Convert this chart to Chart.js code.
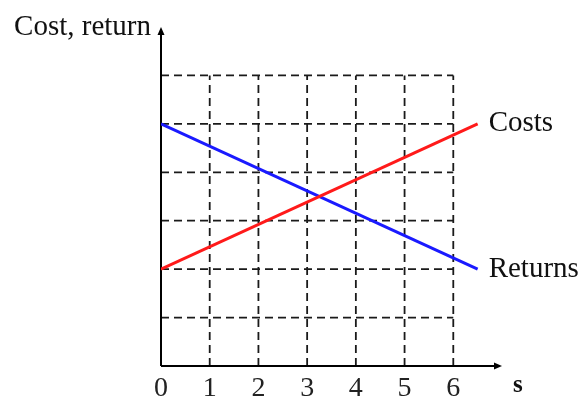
<!DOCTYPE html>
<html>
<head>
<meta charset="utf-8">
<script src="https://cdn.jsdelivr.net/npm/chart.js@4.4.1/dist/chart.umd.min.js"></script>
<style>
  html, body { margin: 0; padding: 0; background: #fff; }
  #wrap { width: 582px; height: 398px; position: relative; }
</style>
</head>
<body>
<div id="wrap"><canvas id="myChart"></canvas></div>
<script>
// data
const sValues = [0, 6.5];
const costs = [2, 5];
const returns = [5, 2];
const xTickLabels = [0, 1, 2, 3, 4, 5, 6];
const gridLevels = [1, 2, 3, 4, 5, 6];
const axisMax = 7;

const serif = "'Liberation Serif', 'Times New Roman', serif";

// dashed grid, arrowed axes and the text labels
const sketchPlugin = {
  id: "sketch",
  beforeDatasetsDraw(chart) {
    const ctx = chart.ctx;
    const x = chart.scales.x;
    const y = chart.scales.y;
    const top = gridLevels[gridLevels.length - 1];

    ctx.save();
    ctx.strokeStyle = "#1a1a1a";
    ctx.lineWidth = 1.8;
    ctx.setLineDash([8, 5]);
    gridLevels.forEach((v) => {
      ctx.beginPath();
      ctx.moveTo(x.getPixelForValue(v), y.getPixelForValue(0));
      ctx.lineTo(x.getPixelForValue(v), y.getPixelForValue(top));
      ctx.stroke();
      ctx.beginPath();
      ctx.moveTo(x.getPixelForValue(0), y.getPixelForValue(v));
      ctx.lineTo(x.getPixelForValue(top), y.getPixelForValue(v));
      ctx.stroke();
    });
    ctx.setLineDash([]);

    // axes
    const x0 = x.getPixelForValue(0);
    const y0 = y.getPixelForValue(0);
    const xEnd = x.getPixelForValue(axisMax);
    const yEnd = y.getPixelForValue(axisMax);
    ctx.strokeStyle = "#000";
    ctx.fillStyle = "#000";
    ctx.lineWidth = 2;
    ctx.beginPath();
    ctx.moveTo(x0, y0);
    ctx.lineTo(x0, yEnd + 4);
    ctx.moveTo(x0, y0);
    ctx.lineTo(xEnd - 4, y0);
    ctx.stroke();
    ctx.beginPath();
    ctx.moveTo(x0, yEnd);
    ctx.lineTo(x0 - 3.5, yEnd + 8);
    ctx.lineTo(x0 + 3.5, yEnd + 8);
    ctx.closePath();
    ctx.fill();
    ctx.beginPath();
    ctx.moveTo(xEnd, y0);
    ctx.lineTo(xEnd - 8, y0 - 3.5);
    ctx.lineTo(xEnd - 8, y0 + 3.5);
    ctx.closePath();
    ctx.fill();
    ctx.restore();
  },
  afterDatasetsDraw(chart) {
    const ctx = chart.ctx;
    const x = chart.scales.x;
    const y = chart.scales.y;
    ctx.save();
    ctx.fillStyle = "#111";
    ctx.font = "29px " + serif;
    ctx.textBaseline = "middle";
    ctx.textAlign = "left";
    const last = sValues.length - 1;
    ctx.fillText("Costs", x.getPixelForValue(sValues[last]) + 11, y.getPixelForValue(costs[last]));
    ctx.fillText("Returns", x.getPixelForValue(sValues[last]) + 11, y.getPixelForValue(returns[last]));

    ctx.textAlign = "right";
    ctx.textBaseline = "alphabetic";
    ctx.fillText("Cost, return", x.getPixelForValue(0) - 10, y.getPixelForValue(axisMax) + 8);

    ctx.textAlign = "left";
    ctx.font = "bold 25px " + serif;
    ctx.fillText("s", x.getPixelForValue(axisMax) + 11, y.getPixelForValue(0) + 26);
    ctx.restore();
  },
};

const ctx = document.getElementById("myChart");

new Chart(ctx, {
  type: "line",
  data: {
    datasets: [
      {
        label: "Costs",
        data: sValues.map((v, i) => ({ x: v, y: costs[i] })),
        borderColor: "#ff1a1a",
        borderWidth: 3,
        pointRadius: 0,
      },
      {
        label: "Returns",
        data: sValues.map((v, i) => ({ x: v, y: returns[i] })),
        borderColor: "#1a1aff",
        borderWidth: 3,
        pointRadius: 0,
      },
    ],
  },
  options: {
    responsive: true,
    maintainAspectRatio: false,
    animation: false,
    layout: {
      padding: { left: 161, right: 80, top: 27, bottom: 0 },
    },
    plugins: {
      legend: { display: false },
      tooltip: { enabled: false },
    },
    scales: {
      x: {
        type: "linear",
        min: 0,
        max: axisMax,
        afterBuildTicks: (scale) => {
          scale.ticks = xTickLabels.map((v) => ({ value: v }));
        },
        afterFit: (scale) => {
          scale.height = 32;
        },
        grid: { display: false, drawTicks: false },
        border: { display: false },
        ticks: {
          color: "#222",
          font: { family: serif, size: 28 },
          padding: 6,
          maxRotation: 0,
        },
      },
      y: {
        display: false,
        min: 0,
        max: axisMax,
      },
    },
  },
  plugins: [sketchPlugin],
});
</script>
</body>
</html>
